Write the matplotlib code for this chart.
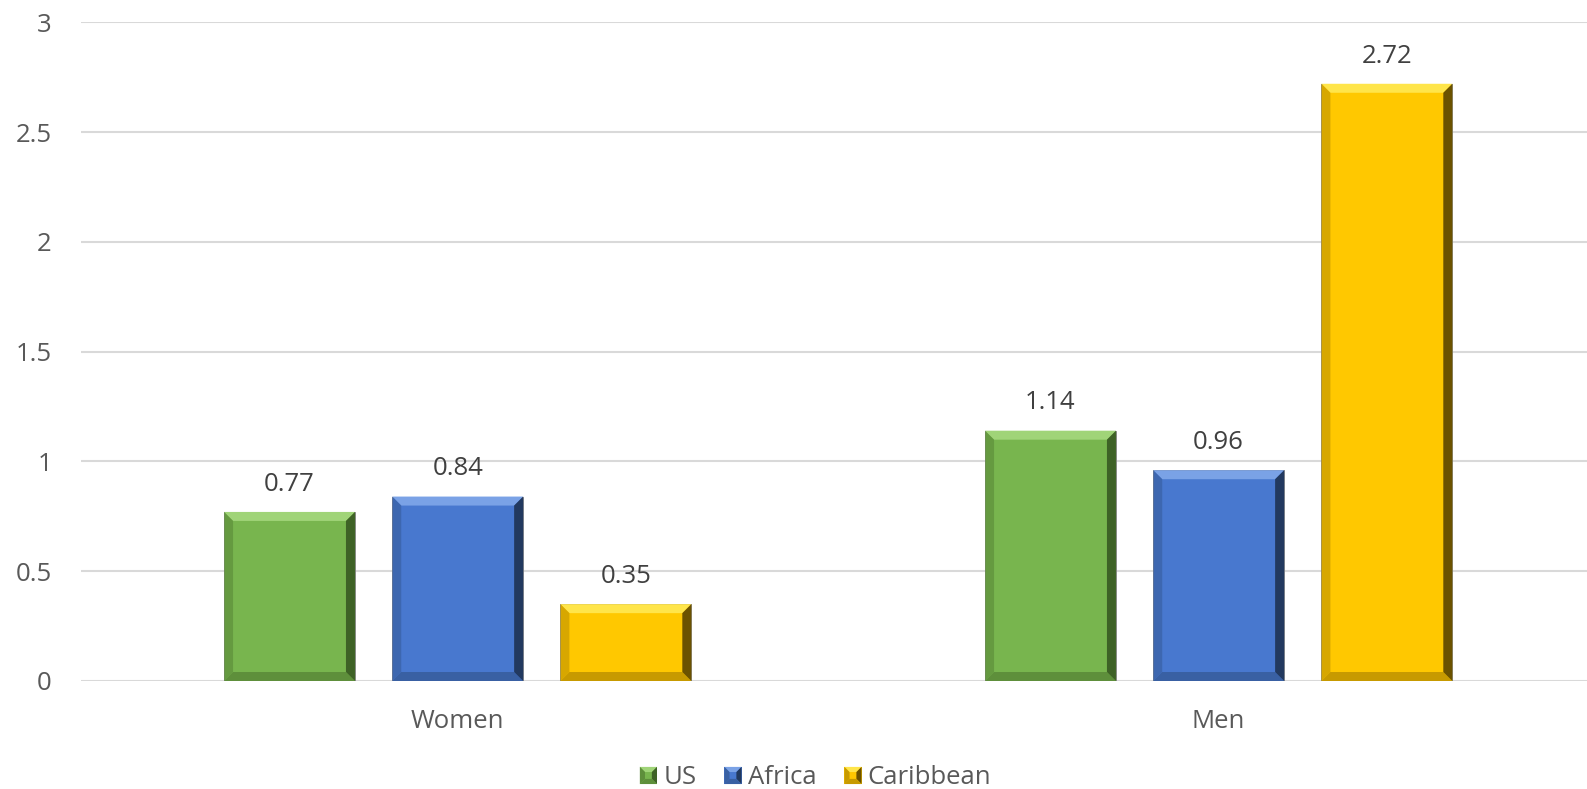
import matplotlib
matplotlib.use("Agg")
import matplotlib.pyplot as plt
from matplotlib.patches import Polygon, Patch
from matplotlib.legend_handler import HandlerPatch
import numpy as np

categories = ["Women", "Men"]
series_names = ["US", "Africa", "Caribbean"]
us = [0.77, 1.14]
africa = [0.84, 0.96]
caribbean = [0.35, 2.72]
yticks = [0, 0.5, 1, 1.5, 2, 2.5, 3]
ytick_labels = ["0", "0.5", "1", "1.5", "2", "2.5", "3"]

colors = ["#78B54E", "#4878CF", "#FFC800"]
light = ["#A0D478", "#7AA2E6", "#FFE54A"]
dark = ["#3E6226", "#22395F", "#6B5200"]
mid = ["#5E8F3B", "#3960A3", "#C79A00"]

plt.rcParams['font.family'] = ['Open Sans', 'DejaVu Sans']

W, H = 1587, 789
fig = plt.figure(figsize=(W / 100, H / 100), dpi=100)
ax_left, ax_right = 81, 1587
ax_top, ax_bottom = 22.3, 681
ax = fig.add_axes([ax_left / W, 1 - ax_bottom / H, (ax_right - ax_left) / W, (ax_bottom - ax_top) / H])

ax.set_xlim(-0.495, 1.484)
ax.set_ylim(0, 3)

x = np.arange(len(categories))
width = 0.172
step = 0.221
all_series = [us, africa, caribbean]

ax.set_yticks(yticks)
ax.set_yticklabels(ytick_labels)
ax.yaxis.grid(True, color="#D9D9D9", linewidth=1.5)
ax.set_axisbelow(True)
for s in ax.spines.values():
    s.set_visible(False)
ax.tick_params(axis="both", length=0, labelsize=18.5, colors="#595959")
ax.tick_params(axis="y", pad=21)
ax.set_xticks(x)
ax.set_xticklabels(categories)
ax.tick_params(axis="x", pad=20)

fig.canvas.draw()
inv = ax.transData.inverted()
o = inv.transform((0, 0))
p = inv.transform((9, 9))
bx, by = p[0] - o[0], p[1] - o[1]

for i, (name, vals) in enumerate(zip(series_names, all_series)):
    pos = x + (i - 1) * step
    bars = ax.bar(pos, vals, width, color=colors[i], edgecolor="#7F7F7F", linewidth=0.6, zorder=2, label=name)
    for b, v in zip(bars, vals):
        x0, x1 = b.get_x(), b.get_x() + b.get_width()
        y0, y1 = 0, v
        ey = min(by, (y1 - y0) / 2.5)
        ex = bx
        ax.add_patch(Polygon([(x0, y1), (x1, y1), (x1 - ex, y1 - ey), (x0 + ex, y1 - ey)],
                             closed=True, facecolor=light[i], edgecolor="none", zorder=3))
        ax.add_patch(Polygon([(x0, y0), (x1, y0), (x1 - ex, y0 + ey), (x0 + ex, y0 + ey)],
                             closed=True, facecolor=mid[i], edgecolor="none", zorder=3))
        ax.add_patch(Polygon([(x1, y0), (x1, y1), (x1 - ex, y1 - ey), (x1 - ex, y0 + ey)],
                             closed=True, facecolor=dark[i], edgecolor="none", zorder=3))
        ax.add_patch(Polygon([(x0, y0), (x0, y1), (x0 + ex, y1 - ey), (x0 + ex, y0 + ey)],
                             closed=True, facecolor=mid[i], edgecolor="none", zorder=3, alpha=0.7))
        ax.annotate(f"{v:.2f}", (b.get_x() + b.get_width() / 2, v), xytext=(0, 20),
                    textcoords="offset points", ha="center", va="center",
                    fontsize=18.5, color="#404040")


class BevelHandler(HandlerPatch):
    def create_artists(self, legend, orig_handle, xdescent, ydescent, width, height, fontsize, trans):
        i = series_names.index(orig_handle.get_label())
        s = height
        x0 = xdescent * -1 + (width - s) / 2
        y0 = -ydescent
        x1, y1 = x0 + s, y0 + s
        e = s * 0.3
        arts = [
            Polygon([(x0, y0), (x1, y0), (x1, y1), (x0, y1)], closed=True, facecolor=colors[i], edgecolor="none"),
            Polygon([(x0, y1), (x1, y1), (x1 - e, y1 - e), (x0 + e, y1 - e)], closed=True, facecolor=light[i], edgecolor="none"),
            Polygon([(x1, y0), (x1, y1), (x1 - e, y1 - e), (x1 - e, y0 + e)], closed=True, facecolor=dark[i], edgecolor="none"),
            Polygon([(x0, y0), (x0, y1), (x0 + e, y1 - e), (x0 + e, y0 + e)], closed=True, facecolor=mid[i], edgecolor="none"),
            Polygon([(x0, y0), (x1, y0), (x1 - e, y0 + e), (x0 + e, y0 + e)], closed=True, facecolor=mid[i], edgecolor="none"),
        ]
        for a in arts:
            a.set_transform(trans)
        return arts


handles = [Patch(label=n) for n in series_names]
leg = fig.legend(handles=handles, loc="center", bbox_to_anchor=(0.514, 1 - 778 / H), ncol=3, frameon=False,
                 fontsize=18.5, handlelength=0.65, handleheight=0.65, handletextpad=0.25, columnspacing=1.1,
                 handler_map={Patch: BevelHandler()})
for t in leg.get_texts():
    t.set_color("#595959")

fig.savefig("out.png", dpi=100)
